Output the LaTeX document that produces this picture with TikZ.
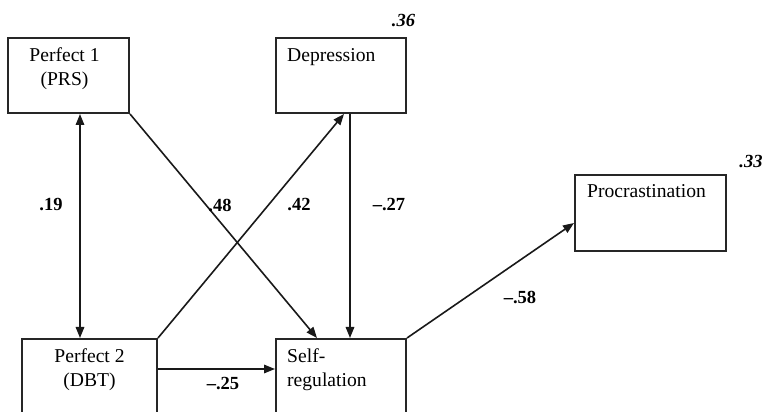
\documentclass[tikz,border=0pt]{standalone}
\usepackage{fontspec}
\setmainfont{Liberation Serif}
\usetikzlibrary{arrows.meta, positioning}

\begin{document}
\begin{tikzpicture}[x=1pt, y=1pt, >={Triangle[length=11pt, width=8.5pt]},
		box/.style={draw=black!85, line width=2pt, inner sep=0pt},
		arr/.style={->, line width=1.6pt, draw=black!90},
		coef/.style={font=\fontsize{18.5}{22}\selectfont\bfseries, inner sep=0pt},
		rsq/.style={font=\fontsize{18.5}{22}\selectfont\bfseries\itshape, inner sep=0pt},
		boxtext/.style={font=\fontsize{19.6}{24}\selectfont, inner sep=0pt}]
				\clip (0,0) rectangle (766,412);
				
				% boxes
				\node[box, minimum width=121pt, minimum height=75pt] (prs) at (68.5, 336.5) {};
				\node[box, minimum width=130pt, minimum height=75pt] (dep) at (341, 336.5) {};
				\node[box, minimum width=151pt, minimum height=76pt] (pro) at (650.5, 199) {};
				\node[box, minimum width=135pt, minimum height=75pt] (dbt) at (89.5, 35.5) {};
				\node[box, minimum width=130pt, minimum height=75pt] (self) at (341, 35.5) {};
				
				% box texts
				\node[boxtext, align=center, below=11pt of prs.north, xshift=-4pt] (prs txt) {Perfect 1\\(PRS)};
				\node[boxtext, anchor=north west, below right=11pt and 12pt of dep.north west] (dep txt) {Depression};
				\node[boxtext, anchor=north west, below right=10.5pt and 13pt of pro.north west] (pro txt) {Procrastination};
				\node[boxtext, align=center, below=11pt of dbt.north] (dbt txt) {Perfect 2\\(DBT)};
				\node[boxtext, align=left, anchor=north west, below right=11pt and 12pt of self.north west] (self txt) {Self-\\regulation};
				
				% paths
				\draw[arr, <->] ([xshift=73pt]prs.south west) -- ([xshift=59pt]dbt.north west);
				\draw[arr] (prs.south east) -- ([xshift=42pt]self.north west);
				\draw[arr] (dbt.north east) -- ([xshift=69pt]dep.south west);
				\draw[arr] ([xshift=75pt]dep.south west) -- ([xshift=75pt]self.north west);
				\draw[arr] ([yshift=7.5pt]dbt.east) -- ([yshift=7.5pt]self.west);
				\draw[arr] (self.north east) -- ([yshift=-10pt]pro.west);
				
				% coefficients
				\node[coef] (c prs dbt) at (51, 207) {.19};
				\node[coef] (c prs self) at (220, 207) {.48};
				\node[coef] (c dbt dep) at (299, 207) {.42};
				\node[coef] (c dep self) at (389, 207) {--.27};
				\node[coef] (c dbt self) at (223, 28) {--.25};
				\node[coef] (c self pro) at (520, 115) {--.58};
				\node[rsq] (r dep) at (403.5, 391) {.36};
				\node[rsq] (r pro) at (751, 250) {.33};
			\end{tikzpicture}
\end{document}
